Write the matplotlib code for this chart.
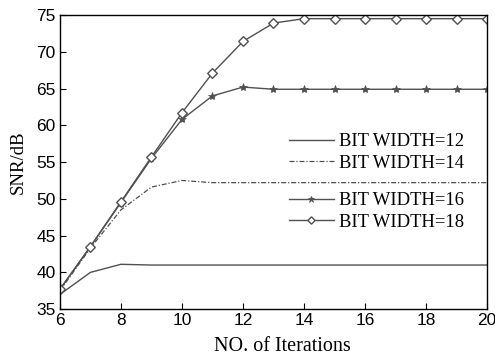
import matplotlib
matplotlib.use("Agg")
import matplotlib.pyplot as plt

# data
iterations = [6, 7, 8, 9, 10, 11, 12, 13, 14, 15, 16, 17, 18, 19, 20]
snr_bw12 = [37.0, 40.0, 41.1, 41.0, 41.0, 41.0, 41.0, 41.0, 41.0, 41.0, 41.0, 41.0, 41.0, 41.0, 41.0]
snr_bw14 = [37.5, 43.3, 48.5, 51.6, 52.5, 52.2, 52.2, 52.2, 52.2, 52.2, 52.2, 52.2, 52.2, 52.2, 52.2]
snr_bw16 = [37.7, 43.5, 49.5, 55.5, 60.8, 64.0, 65.2, 64.9, 64.9, 64.9, 64.9, 64.9, 64.9, 64.9, 64.9]
snr_bw18 = [37.7, 43.5, 49.6, 55.7, 61.7, 67.1, 71.4, 73.9, 74.5, 74.5, 74.5, 74.5, 74.5, 74.5, 74.5]
labels = ['BIT WIDTH=12', 'BIT WIDTH=14', 'BIT WIDTH=16', 'BIT WIDTH=18']
xticks = [6, 8, 10, 12, 14, 16, 18, 20]
yticks = [35, 40, 45, 50, 55, 60, 65, 70, 75]

serif = ['Liberation Serif', 'DejaVu Serif']
sans = ['Liberation Sans', 'DejaVu Sans']
col = '#505050'

fig = plt.figure(figsize=(4.95, 3.57), dpi=100)
ax = fig.add_axes([0.121, 0.134, 0.863, 0.824])

l12, = ax.plot(iterations, snr_bw12, '-', color=col, lw=1.0)
l14, = ax.plot(iterations, snr_bw14, '-.', color=col, lw=0.9, dashes=(4, 1.5, 1, 1.5))
l16, = ax.plot(iterations, snr_bw16, '-', color=col, lw=1.0, marker='*', ms=6,
               mfc=col, mec=col, mew=0.5)
l18, = ax.plot(iterations, snr_bw18, '-', color=col, lw=1.0, marker=(4, 0, 0), ms=7,
               mfc='white', mec=col, mew=1.0)

ax.set_xlim(6, 20)
ax.set_ylim(35, 75)
ax.set_xticks(xticks)
ax.set_yticks(yticks)
ax.tick_params(direction='in', top=False, right=False, length=4, width=0.8, pad=3)
for t in ax.get_xticklabels() + ax.get_yticklabels():
    t.set_family(sans)
    t.set_fontsize(12.5)
for s in ax.spines.values():
    s.set_linewidth(1.0)

ax.set_xlabel('NO. of Iterations', family=serif, fontsize=14.5)
ax.xaxis.set_label_coords(0.52, -0.095)
ax.set_ylabel('SNR/dB', family=serif, fontsize=13.5, labelpad=7)

leg_kw = dict(frameon=False, handlelength=2.4, handletextpad=0.3,
              labelspacing=0.24, borderaxespad=0, borderpad=0,
              prop={'family': serif, 'size': 13.4})
leg1 = ax.legend([l12, l14], labels[:2], loc='upper right',
                 bbox_to_anchor=(0.947, 0.598), **leg_kw)
ax.add_artist(leg1)
ax.legend([l16, l18], labels[2:], loc='upper right',
          bbox_to_anchor=(0.947, 0.397), markerscale=0.75, **leg_kw)

fig.savefig('out.png', dpi=100)
